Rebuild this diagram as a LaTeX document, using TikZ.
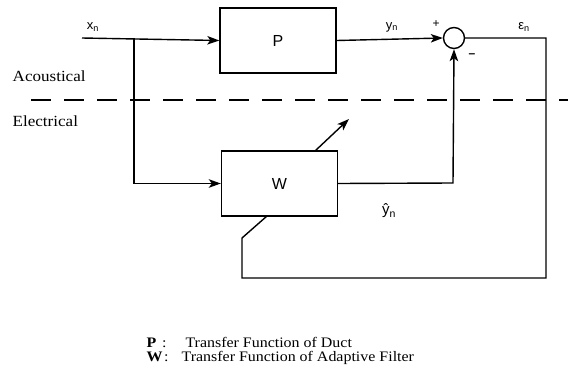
\documentclass[tikz,border=0pt]{standalone}
\usepackage{fontspec}
\setmainfont[FakeStretch=1.1]{Liberation Serif}
\setsansfont{Liberation Sans}
\usepackage{tikz}
\usetikzlibrary{arrows.meta, positioning}

\begin{document}
\begin{tikzpicture}[x=1pt, y=-1pt, >={Stealth[length=12pt,width=8.5pt,inset=3pt]}, line width=1.4pt,
  blockbox/.style={rectangle,draw,line width=1.4pt,minimum width=116pt,minimum height=65pt,font=\sffamily\fontsize{16}{16}\selectfont},
  sigtext/.style={font=\sffamily\fontsize{13}{13}\selectfont},
  every node/.style={font=\fontsize{15.5}{16}\selectfont}]

\useasboundingbox (0,0) rectangle (568,380);

% Blocks
\node[blockbox] at (278,40.5) (P) {P};
\node[blockbox] at (279.5,183.5) (W) {W};
\node[circle,draw,line width=1.4pt,minimum size=21pt,inner sep=0pt] at (454,38) (sum) {};

% Signal labels
\node[sigtext] at (93,27) (xn) {x\textsubscript{n}};
\node[sigtext] at (392,27) (yn) {y\textsubscript{n}};
\node[sigtext] at (524,27) (en) {ε\textsubscript{n}};
\node[sigtext,font=\sffamily\fontsize{15}{15}\selectfont] at (389,211) (yhat) {ŷ\textsubscript{n}};
\node[font=\sffamily\fontsize{12}{12}\selectfont] at (436,24) (plus) {+};
\node[font=\sffamily\fontsize{12}{12}\selectfont] at (472,56) (minus) {\textbf{--}};

% Domain labels
\node[anchor=west,inner sep=0pt] at (12,76) (acou) {Acoustical};
\node[anchor=west,inner sep=0pt] at (12,121) (elec) {Electrical};
\draw[dash pattern=on 20pt off 13pt] (31,100) -- (568,100);

% Corner points
\coordinate (xin) at (82,38);
\coordinate (split) at (134,38);
\coordinate (wtop) at (453,183);
\coordinate (ecorner) at (546,38);
\coordinate (fbcorner) at (546,278);
\coordinate (fbleft) at (242,278);
\coordinate (fbbend) at (242,238);
\coordinate (wbot) at (267,216);
\coordinate (adapt0) at (315,151);
\coordinate (adapt1) at (349,119);

% Connections
\draw[->] (xin) -- (P.west);
\draw[->] (split) |- (W.west);
\draw[->] (P.east) -- (sum.west);
\draw[->] (W.east) -- (wtop) -- (sum.south);
\draw (sum.east) -- (ecorner) -- (fbcorner) -- (fbleft) -- (fbbend) -- (wbot);
\draw[->] (adapt0) -- (adapt1);

% Legend
\node[anchor=base west,inner sep=0pt,font=\fontsize{14.5}{15}\selectfont] at (146,347) (legP) {\textbf{P}\hspace{0.4em}:\hspace{1.3em}Transfer Function of Duct};
\node[anchor=base west,inner sep=0pt,font=\fontsize{14.5}{15}\selectfont] at (146,361) (legW) {\textbf{W}\hspace{0.1em}:\hspace{0.9em}Transfer Function of Adaptive Filter};

\end{tikzpicture}
\end{document}
